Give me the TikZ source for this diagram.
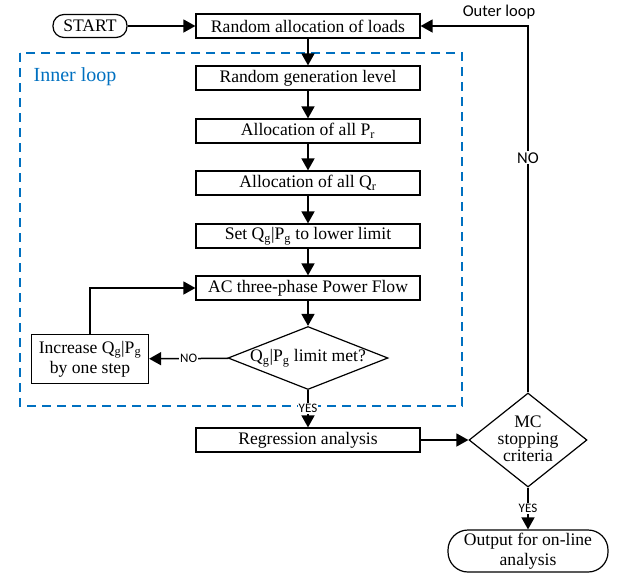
\documentclass[tikz,border=0pt]{standalone}
\usepackage{fontspec}
\setmainfont{Liberation Serif}
\newfontfamily\lblfont{Carlito}
\usetikzlibrary{shapes.geometric,arrows.meta}

\definecolor{loopblue}{RGB}{0,112,192}

\begin{document}
\begin{tikzpicture}[x=1pt,y=-1pt,font=\fontsize{17.6}{20}\selectfont,
    stepbox/.style={draw,line width=1.2pt,minimum width=224pt,minimum height=24pt,inner sep=0pt},
    term/.style={draw,line width=1.2pt,rounded corners=11pt,inner sep=0pt},
    decision/.style={draw,diamond,line width=1.2pt,inner sep=0pt},
    flow/.style={line width=1.5pt,-{Triangle[length=12pt,width=13pt]}},
    tag/.style={fill=white,inner sep=1pt,font=\lblfont\fontsize{13}{13}\selectfont}]
        \useasboundingbox (0,0) rectangle (618,574);

        % inner loop frame
        \draw[loopblue,line width=1.6pt,dash pattern=on 9pt off 6pt] (20,53) rectangle (462,406);
        \node[text=loopblue,font=\fontsize{20}{20}\selectfont] (innerlbl) at (75,77) {Inner loop};
        \node[font=\lblfont\fontsize{16.5}{16.5}\selectfont] (outerlbl) at (499,12) {Outer loop};

        \node[term,minimum width=74pt,minimum height=23pt] (start) at (90,26) {START};
        \node[stepbox] (alloc) at (308,26) {Random allocation of loads};
        \node[stepbox] (gen) at (308,78) {Random generation level};
        \node[stepbox] (pr) at (308,131) {Allocation of all P\textsubscript{r}};
        \node[stepbox] (qr) at (308,183) {Allocation of all Q\textsubscript{r}};
        \node[stepbox] (setq) at (308,236) {Set Q\textsubscript{g}|P\textsubscript{g} to lower limit};
        \node[stepbox] (acpf) at (308,288) {AC three-phase Power Flow};
        \node[decision,minimum width=160pt,minimum height=63pt] (limit) at (308,358)
            {\makebox[0pt]{Q\textsubscript{g}|P\textsubscript{g} limit met?}};
        \node[stepbox,minimum width=117pt,minimum height=49pt,align=center] (incr) at (90,359)
            {Increase Q\textsubscript{g}|P\textsubscript{g}\\by one step};
        \node[stepbox] (regr) at (308,440) {Regression analysis};
        \node[decision,minimum width=118pt,minimum height=94pt] (mc) at (528,440)
            {\makebox[0pt]{\begin{tabular}{@{}c@{}}MC\\[-3pt]stopping\\[-3pt]criteria\end{tabular}}};
        \node[term,rounded corners=20pt,minimum width=160pt,minimum height=42pt,align=center] (out) at (528,551)
            {Output for on-line\\analysis};

        \draw[flow] (start) -- (alloc);
        \draw[flow] (alloc) -- (gen);
        \draw[flow] (gen) -- (pr);
        \draw[flow] (pr) -- (qr);
        \draw[flow] (qr) -- (setq);
        \draw[flow] (setq) -- (acpf);
        \draw[flow] (acpf) -- (limit);
        \draw[flow] (limit) -- node[tag] {NO} (incr);
        \draw[flow] (incr.north) |- (acpf.west);
        \draw[flow] (limit) -- node[tag] {YES} (regr);
        \draw[flow] (regr) -- (mc);
        \draw[flow] (mc) -- node[tag] {YES} (out);
        \draw[flow] (mc.north) |- node[tag,pos=0.32,font=\lblfont\fontsize{16.5}{16.5}\selectfont] {NO} (alloc.east);
    \end{tikzpicture}
\end{document}
